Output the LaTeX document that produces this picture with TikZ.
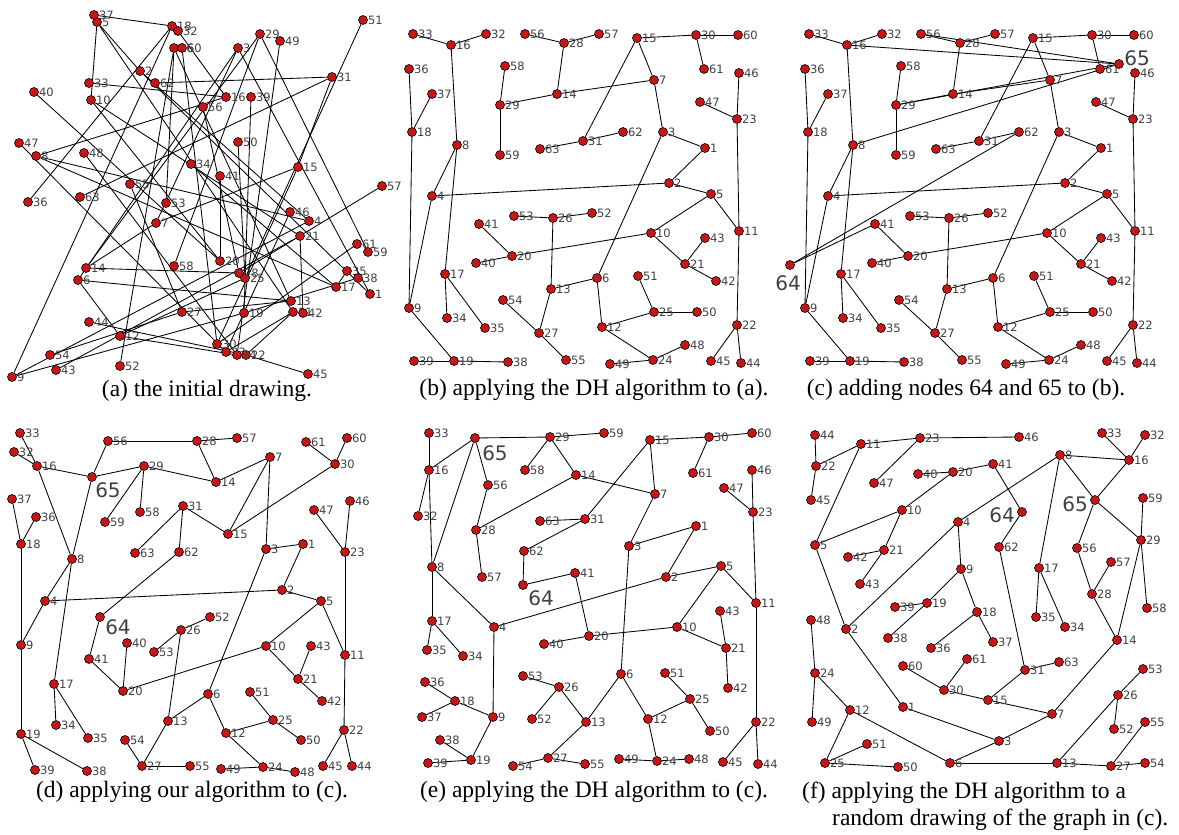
\documentclass[tikz,border=0pt]{standalone}
\usepackage{fontspec}
\setmainfont{Liberation Serif}
\newfontfamily\lblfont{DejaVu Sans}
\pgfdeclarelayer{bg}
\pgfsetlayers{bg,main}
\definecolor{vred}{RGB}{200,22,22}
\definecolor{lgray}{RGB}{64,64,64}
\tikzset{
 vtx/.style={circle, fill=vred, draw=black, line width=0.6pt, minimum size=9pt, inner sep=0pt, label distance=0.3pt},
 lbl/.style={font=\lblfont\fontsize{11.5}{12}\selectfont, text=lgray, inner sep=0pt},
 big/.style={font=\lblfont\fontsize{20}{20}\selectfont, text=lgray, inner sep=0pt},
 lnk/.style={line width=0.85pt, black},
 capt/.style={font=\fontsize{23.5}{26}\selectfont, inner sep=0pt}
}
\newcommand\TreeE{33/16,16/32,16/8,36/18,37/18,18/9,8/4,8/17,56/28,28/57,28/14,58/29,29/14,29/59,14/7,15/30,30/60,30/61,15/7,15/31,63/31,31/62,7/3,3/1,1/2,2/4,2/5,46/23,47/23,23/11,11/22,3/6,5/10,5/11,10/20,10/21,21/43,21/42,41/20,40/20,53/26,26/52,26/13,13/6,13/27,54/27,27/55,6/12,12/25,25/51,25/50,12/24,24/48,24/49,22/45,22/44,4/9,9/19,39/19,19/38,17/34,17/35}
\newcommand\ExtraE{64/62,64/41,65/16,65/56,65/29,65/8}
\newcommand\PosA{1/370/294,2/140/71,3/238/48,4/309/221,5/97/22,6/78/280,7/156/223,8/36/156,9/12/377,10/91/100,11/293/312,12/120/336,13/291/301,14/86/268,15/298/167,16/226/97,17/336/287,18/172/26,19/244/313,20/220/261,21/300/236,22/246/355,23/226/352,24/237/355,25/245/278,26/174/48,27/182/312,28/239/273,29/260/34,30/217/344,31/332/77,32/178/31,33/89/83,34/191/164,35/347/271,36/28/202,37/94/15,38/358/278,39/251/97,40/34/92,41/220/176,42/303/313,43/56/370,44/89/322,45/308/374,46/290/212,47/19/143,48/84/153,49/280/41,50/238/142,51/363/20,52/120/366,53/166/203,54/50/355,55/130/184,56/203/107,57/382/186,58/174/266,59/368/252,60/182/48,61/357/244,62/155/83,63/80/197}
\newcommand\PosB{1/705/148,2/669/183,3/663/132,4/432/196,5/711/194,6/597/278,7/654/80,8/457/145,9/409/308,10/651/233,11/739/231,12/602/327,13/551/289,14/557/94,15/637/38,16/451/45,17/445/274,18/412/132,19/454/361,20/512/256,21/685/264,22/737/325,23/737/119,24/653/360,25/654/312,26/553/218,27/539/333,28/564/43,29/500/105,30/696/35,31/583/141,32/486/34,33/413/34,34/447/318,35/485/328,36/409/69,37/432/94,38/508/362,39/414/361,40/476/263,41/479/224,42/716/281,43/705/238,44/741/363,45/711/361,46/739/73,47/700/102,48/685/345,49/610/364,50/697/312,51/638/276,52/592/213,53/514/216,54/503/300,55/566/360,56/525/34,57/599/34,58/505/66,59/500/155,60/738/35,61/704/69,62/623/132,63/540/149}
\newcommand\PosD{1/303/544,2/282/590,3/266/549,4/45/601,5/321/601,6/208/694,7/270/457,8/72/559,9/21/645,10/266/646,11/345/655,12/226/733,13/168/721,14/216/482,15/228/534,16/37/466,17/54/684,18/21/544,19/21/734,20/123/691,21/298/679,22/344/730,23/345/552,24/263/767,25/273/720,26/181/630,27/142/766,28/197/441,29/144/466,30/335/464,31/183/506,32/14/452,33/20/433,34/56/725,35/88/738,36/36/517,37/12/499,38/87/771,39/35/770,40/127/643,41/89/659,42/322/701,43/311/646,44/352/766,45/323/766,46/350/501,47/314/510,48/295/772,49/221/769,50/301/740,51/250/692,52/210/617,53/154/652,54/125/740,55/190/766,56/108/441,57/237/438,58/140/512,59/105/522,60/347/438,61/306/442,62/179/552,63/135/553}
\newcommand\PosE{1/696/526,2/666/577,3/629/546,4/494/627,5/721/566,6/621/674,7/655/494,8/432/567,9/493/717,10/677/627,11/756/603,12/648/719,13/586/722,14/576/475,15/650/440,16/429/470,17/432/621,18/455/701,19/471/760,20/589/636,21/726/648,22/756/722,23/753/512,24/657/761,25/690/699,26/559/687,27/548/758,28/476/530,29/550/437,30/709/437,31/585/519,32/418/516,33/429/433,34/463/656,35/427/650,36/425/682,37/422/717,38/440/740,39/428/763,40/544/644,41/575/573,42/728/688,43/720/611,44/758/764,45/723/762,46/752/470,47/724/488,48/689/759,49/619/759,50/710/731,51/665/673,52/532/719,53/523/676,54/513/766,55/585/764,56/488/485,57/482/577,58/525/470,59/604/433,60/752/433,61/693/473,62/524/551,63/540/521}
\newcommand\PosF{1/903/707,2/846/629,3/999/741,4/958/522,5/815/545,6/950/763,7/1052/714,8/1060/455,9/961/569,10/902/510,11/861/444,12/850/710,13/1057/763,14/1117/640,15/988/700,16/1129/460,17/1039/568,18/977/612,19/927/603,20/953/472,21/884/550,22/816/466,23/920/438,24/815/673,25/825/763,26/1118/695,27/1111/766,28/1092/594,29/1141/540,30/944/690,31/1025/670,32/1145/435,33/1102/433,34/1065/627,35/1036/617,36/931/648,37/993/642,38/888/638,39/895/607,40/918/474,41/993/464,42/848/557,43/860/584,44/815/435,45/811/500,46/1019/437,47/874/483,48/811/620,49/812/722,50/898/767,51/867/744,52/1114/729,53/1143/669,54/1145/763,55/1145/722,56/1077/548,57/1111/562,58/1147/608,59/1143/498,60/903/666,61/967/659,62/999/547,63/1059/662}
\begin{document}
\begin{tikzpicture}[x=1pt,y=-1pt]
\useasboundingbox (0,0) rectangle (1179,835);
% (a)
\foreach \n/\x/\y in \PosA \node[vtx, label={[lbl]0:\n}] (a\n) at (\x,\y) {};
\begin{pgfonlayer}{bg}
\foreach \u/\v in \TreeE \draw[lnk] (a\u) -- (a\v);
\end{pgfonlayer}
% (b)
\foreach \n/\x/\y in \PosB \node[vtx, label={[lbl]0:\n}] (b\n) at (\x,\y) {};
\begin{pgfonlayer}{bg}
\foreach \u/\v in \TreeE \draw[lnk] (b\u) -- (b\v);
\end{pgfonlayer}
% (c)
\foreach \n/\x/\y in \PosB \node[vtx, label={[lbl]0:\n}] (c\n) at ({\x+396},\y) {};
\node[vtx] (c64) at (790,265) {};
\node[vtx] (c65) at (1119,64) {};
\node[big] (c64l) at (788,283) {64};
\node[big] (c65l) at (1137,58) {65};
\begin{pgfonlayer}{bg}
\foreach \u/\v in \TreeE \draw[lnk] (c\u) -- (c\v);
\foreach \u/\v in \ExtraE \draw[lnk] (c\u) -- (c\v);
\end{pgfonlayer}
% (d)
\foreach \n/\x/\y in \PosD \node[vtx, label={[lbl]0:\n}] (d\n) at (\x,\y) {};
\node[vtx] (d64) at (100,617) {};
\node[vtx] (d65) at (92,477) {};
\node[big] (d64l) at (118,627) {64};
\node[big] (d65l) at (108,490) {65};
\begin{pgfonlayer}{bg}
\foreach \u/\v in \TreeE \draw[lnk] (d\u) -- (d\v);
\foreach \u/\v in \ExtraE \draw[lnk] (d\u) -- (d\v);
\end{pgfonlayer}
% (e)
\foreach \n/\x/\y in \PosE \node[vtx, label={[lbl]0:\n}] (e\n) at (\x,\y) {};
\node[vtx] (e64) at (523,585) {};
\node[vtx] (e65) at (475,438) {};
\node[big] (e64l) at (541,598) {64};
\node[big] (e65l) at (495,453) {65};
\begin{pgfonlayer}{bg}
\foreach \u/\v in \TreeE \draw[lnk] (e\u) -- (e\v);
\foreach \u/\v in \ExtraE \draw[lnk] (e\u) -- (e\v);
\end{pgfonlayer}
% (f)
\foreach \n/\x/\y in \PosF \node[vtx, label={[lbl]0:\n}] (f\n) at (\x,\y) {};
\node[vtx] (f64) at (1022,512) {};
\node[vtx] (f65) at (1095,500) {};
\node[big] (f64l) at (1002,515) {64};
\node[big] (f65l) at (1075,504) {65};
\begin{pgfonlayer}{bg}
\foreach \u/\v in \TreeE \draw[lnk] (f\u) -- (f\v);
\foreach \u/\v in \ExtraE \draw[lnk] (f\u) -- (f\v);
\end{pgfonlayer}
% captions
\node[capt] (capa) at (207,391) {(a) the initial drawing.};
\node[capt] (capb) at (594,390) {(b) applying the DH algorithm to (a).};
\node[capt] (capc) at (966,390) {(c) adding nodes 64 and 65 to (b).};
\node[capt] (capd) at (192,792) {(d) applying our algorithm to (c).};
\node[capt] (cape) at (594,792) {(e) applying the DH algorithm to (c).};
\node[capt, anchor=west] (capf1) at (802,793) {(f) applying the DH algorithm to a};
\node[capt, anchor=west] (capf2) at (832,820) {random drawing of the graph in (c).};
\end{tikzpicture}
\end{document}
